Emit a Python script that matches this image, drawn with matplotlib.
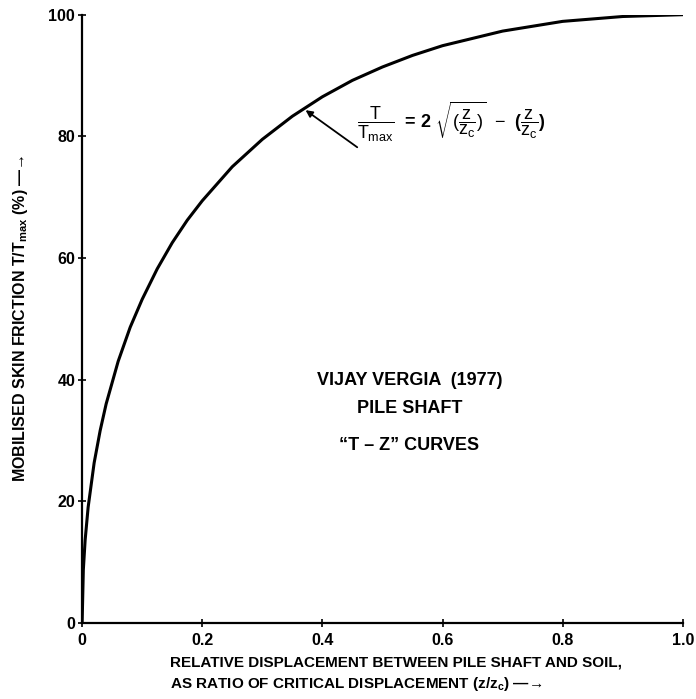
import matplotlib
matplotlib.use("Agg")
import matplotlib.pyplot as plt

plt.rcParams["font.family"] = ["Liberation Sans", "DejaVu Sans"]
plt.rcParams["mathtext.fontset"] = "custom"
plt.rcParams["mathtext.rm"] = "Liberation Sans"
plt.rcParams["mathtext.it"] = "Liberation Sans"
plt.rcParams["mathtext.bf"] = "Liberation Sans:bold"

# values: z/zc and T/Tmax (%)
z_ratio = [0, 0.002, 0.005, 0.01, 0.02, 0.03, 0.04, 0.06, 0.08, 0.10, 0.125,
           0.15, 0.175, 0.20, 0.25, 0.30, 0.35, 0.40, 0.45, 0.50, 0.55, 0.60,
           0.70, 0.80, 0.90, 1.00]
t_ratio = [0, 8.7, 13.6, 19.0, 26.3, 31.6, 36.0, 43.0, 48.6, 53.2, 58.2,
           62.5, 66.2, 69.4, 75.0, 79.5, 83.3, 86.5, 89.2, 91.4, 93.3, 94.9,
           97.3, 98.9, 99.7, 100.0]

x_ticks = [0, 0.2, 0.4, 0.6, 0.8, 1.0]
x_tick_labels = ["0", "0.2", "0.4", "0.6", "0.8", "1.0"]
y_ticks = [0, 20, 40, 60, 80, 100]

fig = plt.figure(figsize=(6.96, 6.99), dpi=100)
ax = fig.add_axes([0.118, 0.109, 0.863, 0.870])

ax.plot(z_ratio, t_ratio, color="black", lw=2.2, solid_capstyle="round")

ax.set_xlim(0, 1.0)
ax.set_ylim(0, 100)
ax.set_xticks(x_ticks)
ax.set_xticklabels(x_tick_labels)
ax.set_yticks(y_ticks)
for s in ["top", "right"]:
    ax.spines[s].set_visible(False)
for s in ["left", "bottom"]:
    ax.spines[s].set_linewidth(1.6)
ax.tick_params(axis="both", direction="inout", length=6, width=1.2,
               labelsize=11.5)
ax.tick_params(axis="x", pad=4)
ax.tick_params(axis="y", pad=2)
for lab in ax.get_xticklabels() + ax.get_yticklabels():
    lab.set_fontweight("bold")

ax.set_ylabel(r"MOBILISED SKIN FRICTION T/T$_{\mathbf{max}}$ (%) —→",
              fontsize=11.5, fontweight="bold", labelpad=13)

fig.text(0.244, 0.052, "RELATIVE DISPLACEMENT BETWEEN PILE SHAFT AND SOIL,",
         fontsize=11, fontweight="bold", ha="left", va="center")
fig.text(0.244, 0.021, r"AS RATIO OF CRITICAL DISPLACEMENT (z/z$_{\mathbf{c}}$) —→",
         fontsize=11, fontweight="bold", ha="left", va="center")

# formula with arrow to the curve
ax.text(0.457, 82.3,
        r"$\dfrac{T}{T_{max}}$  = 2 $\sqrt{(\dfrac{z}{z_c})}$  $-$  ($\dfrac{z}{z_c}$)",
        fontsize=13, fontweight="bold", ha="left", va="center")
ax.annotate("", xy=(0.372, 84.3), xytext=(0.458, 78.2),
            arrowprops=dict(arrowstyle="-|>", color="black", lw=1.3,
                            shrinkA=0, shrinkB=0, mutation_scale=10))

ax.text(0.545, 39.9, "VIJAY VERGIA  (1977)", fontsize=13, fontweight="bold",
        ha="center", va="center")
ax.text(0.545, 35.3, "PILE SHAFT", fontsize=13, fontweight="bold",
        ha="center", va="center")
ax.text(0.545, 29.2, "\u201cT \u2013 Z\u201d CURVES", fontsize=13, fontweight="bold",
        ha="center", va="center")

fig.savefig("out.png", dpi=100, facecolor="white")
